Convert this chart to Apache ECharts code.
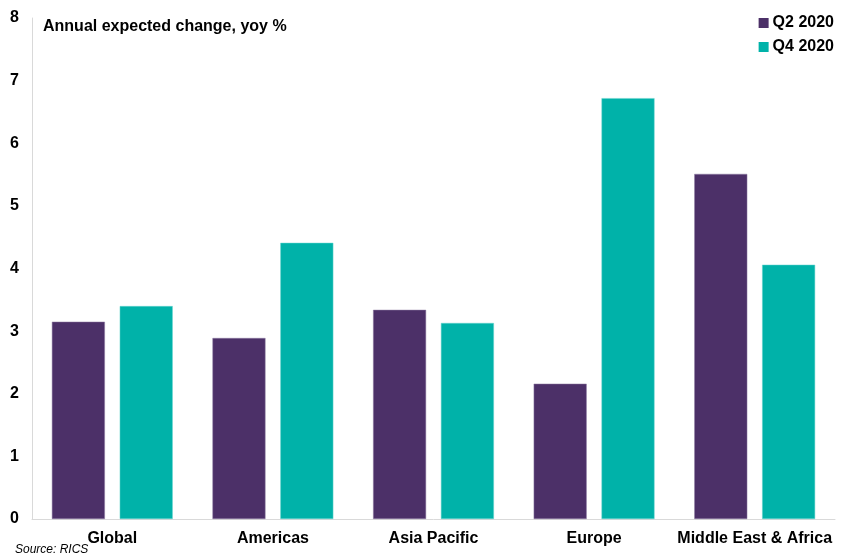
<!DOCTYPE html>
<html><head><meta charset="utf-8">
<script src="https://cdn.jsdelivr.net/npm/echarts@6/dist/echarts.min.js"></script>
<style>html,body{margin:0;padding:0;background:#fff}#c{width:841px;height:556px}</style>
</head><body><div id="c"></div>
<script>
const categories = ['Global','Americas','Asia Pacific','Europe','Middle East & Africa'];
const q2_2020 = [3.15, 2.89, 3.34, 2.16, 5.51];
const q4_2020 = [3.40, 4.41, 3.13, 6.72, 4.06];
const seriesNames = ['Q2 2020','Q4 2020'];
const yTicks = [0,1,2,3,4,5,6,7,8];

const FONT = '"Liberation Sans", Arial, sans-serif';
const chart = echarts.init(document.getElementById('c'));
chart.setOption({
  animation: false,
  textStyle: {fontFamily: FONT},
  grid: {left: 32, right: 6, top: 18, bottom: 37, containLabel: false},
  title: [
    {text: 'Annual expected change, yoy %', left: 38, top: 14,
     textStyle: {fontFamily: FONT, fontSize: 16, fontWeight: 'bold', color: '#000'}},
    {text: 'Source: RICS', left: 10, top: 539,
     textStyle: {fontFamily: FONT, fontSize: 12, fontStyle: 'italic', fontWeight: 'normal', color: '#000'}}
  ],
  legend: {
    orient: 'vertical', right: 2, top: 10, itemWidth: 10, itemHeight: 10, itemGap: 8,
    icon: 'rect', data: seriesNames,
    itemStyle: {borderWidth: 0},
    textStyle: {fontFamily: FONT, fontSize: 16, fontWeight: 'bold', color: '#000', padding: [0,0,0,-1]}
  },
  xAxis: {
    type: 'category', data: categories,
    axisLine: {lineStyle: {color: '#d9d9d9', width: 1}},
    axisTick: {show: false},
    axisLabel: {fontFamily: FONT, fontSize: 16, fontWeight: 'bold', color: '#000', margin: 12, interval: 0}
  },
  yAxis: {
    type: 'value', min: yTicks[0], max: yTicks[yTicks.length-1], interval: 1,
    axisLine: {show: true, lineStyle: {color: '#d9d9d9', width: 1}},
    axisTick: {show: false},
    splitLine: {show: false},
    axisLabel: {fontFamily: FONT, fontSize: 16, fontWeight: 'bold', color: '#000', margin: 13}
  },
  series: [
    {name: seriesNames[0], type: 'bar', data: q2_2020, barWidth: 53, barGap: '28%',
     itemStyle: {color: '#4c3068', borderColor: '#8d7aa0', borderWidth: 0.5}},
    {name: seriesNames[1], type: 'bar', data: q4_2020, barWidth: 53,
     itemStyle: {color: '#00b2a9', borderColor: '#66d4cf', borderWidth: 0.5}}
  ]
});
</script></body></html>
